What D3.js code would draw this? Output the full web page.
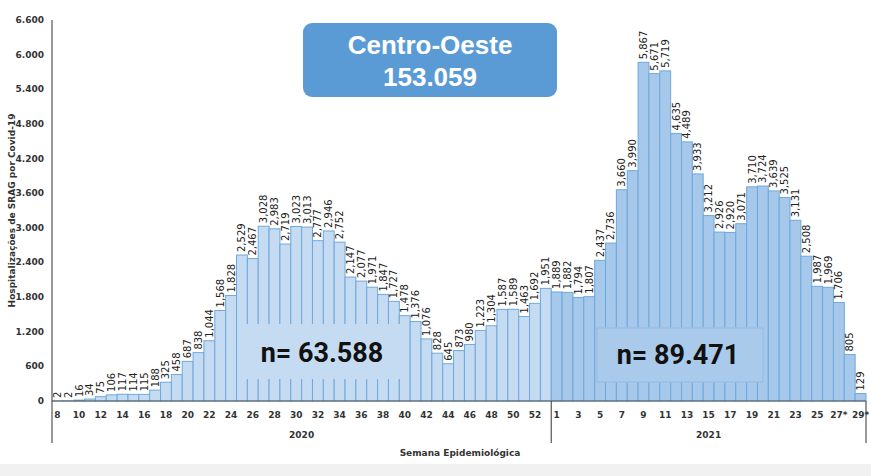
<!DOCTYPE html>
<html lang="pt">
<head>
  <meta charset="UTF-8">
  <title>Centro-Oeste</title>
  <script src="https://cdn.jsdelivr.net/npm/d3@7"></script>
  <style>
    body { margin: 0; background: #fff; }
    svg { display: block; }
    .tick-lbl { font: bold 9px "DejaVu Sans", sans-serif; fill: #333; }
    .bar-lbl { font: 10px "DejaVu Sans", sans-serif; fill: #222; }
    .axis-title { font: bold 9px "DejaVu Sans", sans-serif; fill: #333; }
  </style>
</head>
<body>
<svg width="871" height="476"></svg>
<script>
  // semanas epidemiológicas
  var weeks2020 = d3.range(8, 54);
  var weeks2021 = d3.range(1, 30);

  var values2020 = [2, 2, 16, 34, 75, 106, 117, 114, 115, 188,
    325, 458, 687, 838, 1044, 1568, 1828, 2529, 2467, 3028,
    2983, 2719, 3023, 3013, 2777, 2946, 2752, 2147, 2077, 1971,
    1847, 1727, 1478, 1376, 1076, 828, 645, 873, 980, 1223,
    1304, 1587, 1589, 1463, 1692, 1951];
  var values2021 = [1889, 1882, 1794, 1807, 2437, 2736, 3660, 3990, 5867, 5671,
    5719, 4635, 4489, 3933, 3212, 2926, 2920, 3071, 3710, 3724,
    3639, 3525, 3131, 2508, 1987, 1969, 1706, 805, 129];

  var yTicks = [0, 600, 1200, 1800, 2400, 3000, 3600, 4200, 4800, 5400, 6000, 6600];
  var total = "153.059", total2020 = "63.588", total2021 = "89.471";

  var data = weeks2020.map(function(w, i) { return {year: 2020, week: w, value: values2020[i]}; })
    .concat(weeks2021.map(function(w, i) { return {year: 2021, week: w, value: values2021[i]}; }));
  data.forEach(function(d) { d.key = d.year + "-" + d.week; });

  var svg = d3.select("svg");
  var plotLeft = 52, plotRight = 866, plotTop = 20, base = 401;

  var x = d3.scaleBand().domain(data.map(function(d) { return d.key; })).range([plotLeft, plotRight]).padding(0);
  var y = d3.scaleLinear().domain([0, 6600]).range([base, plotTop]);

  var fmtPt = function(v) { return d3.format(",")(v).replace(/,/g, "."); };

  // faixa cinza de fundo no rodapé
  svg.append("rect").attr("x", 0).attr("y", 464).attr("width", 871).attr("height", 12).attr("fill", "#f1f1f1");

  // barras
  svg.append("g").selectAll("rect")
    .data(data)
    .enter().append("rect")
      .attr("x", function(d) { return x(d.key); })
      .attr("y", function(d) { return y(d.value); })
      .attr("width", x.bandwidth())
      .attr("height", function(d) { return base - y(d.value); })
      .attr("fill", function(d) { return d.year === 2020 ? "#c5dbf2" : "#a6c8ea"; })
      .attr("stroke", "#6fa8dc")
      .attr("stroke-width", 1);

  // rótulos das barras
  svg.append("g").selectAll("text")
    .data(data)
    .enter().append("text")
      .attr("class", "bar-lbl")
      .attr("transform", function(d) {
        return "translate(" + (x(d.key) + x.bandwidth() / 2 + 3.5) + "," + (y(d.value) - 3) + ") rotate(-90)";
      })
      .text(function(d) { return d3.format(",")(d.value); });

  // eixo y
  svg.append("line").attr("x1", plotLeft).attr("x2", plotLeft).attr("y1", plotTop).attr("y2", 443)
    .attr("stroke", "#555").attr("stroke-width", 1.2);
  svg.append("g").selectAll("text")
    .data(yTicks)
    .enter().append("text")
      .attr("class", "tick-lbl")
      .attr("x", 44)
      .attr("y", function(d) { return y(d) + 3; })
      .attr("text-anchor", "end")
      .text(fmtPt);

  svg.append("text")
    .attr("class", "axis-title")
    .attr("transform", "translate(15," + ((plotTop + base) / 2) + ") rotate(-90)")
    .attr("text-anchor", "middle")
    .text("Hospitalizações de SRAG por Covid-19");

  // eixo x
  svg.append("line").attr("x1", plotLeft).attr("x2", plotRight).attr("y1", base).attr("y2", base)
    .attr("stroke", "#555").attr("stroke-width", 1.2);
  var sep = x("2021-1");
  [sep, plotRight].forEach(function(px) {
    svg.append("line").attr("x1", px).attr("x2", px).attr("y1", base).attr("y2", 443)
      .attr("stroke", "#555").attr("stroke-width", 1.2);
  });

  svg.append("g").selectAll("text")
    .data(data.filter(function(d) { return d.year === 2020 ? d.week % 2 === 0 : d.week % 2 === 1; }))
    .enter().append("text")
      .attr("class", "tick-lbl")
      .attr("x", function(d) { return x(d.key) + x.bandwidth() / 2; })
      .attr("y", 418)
      .attr("text-anchor", "middle")
      .text(function(d) { return d.week + (d.year === 2021 && d.week >= 27 ? "*" : ""); });

  svg.append("text").attr("class", "tick-lbl").attr("x", (plotLeft + sep) / 2).attr("y", 438)
    .attr("text-anchor", "middle").text("2020");
  svg.append("text").attr("class", "tick-lbl").attr("x", (sep + plotRight) / 2).attr("y", 438)
    .attr("text-anchor", "middle").text("2021");
  svg.append("text").attr("class", "tick-lbl").attr("x", 460).attr("y", 456)
    .attr("text-anchor", "middle").text("Semana Epidemiológica");

  // caixas n=
  svg.append("rect").attr("x", 238).attr("y", 324).attr("width", 162).attr("height", 55)
    .attr("fill", "#c5dbf2");
  svg.append("text").attr("x", 322).attr("y", 362).attr("text-anchor", "middle")
    .style("font", "bold 27px Roboto, sans-serif").attr("fill", "#111").text("n= " + total2020);

  svg.append("rect").attr("x", 597).attr("y", 328).attr("width", 166).attr("height", 54)
    .attr("fill", "#a9caeb").attr("stroke", "#9cc0e6").attr("stroke-width", 1.5);
  svg.append("text").attr("x", 678).attr("y", 364).attr("text-anchor", "middle")
    .style("font", "bold 27px Roboto, sans-serif").attr("fill", "#111").text("n= " + total2021);

  // título
  svg.append("rect").attr("x", 303).attr("y", 23).attr("width", 254).attr("height", 74)
    .attr("rx", 9).attr("fill", "#5b9bd5");
  svg.append("text").attr("x", 430).attr("y", 54).attr("text-anchor", "middle")
    .style("font", "bold 26px 'Liberation Sans', Arial, sans-serif").attr("fill", "#fff").text("Centro-Oeste");
  svg.append("text").attr("x", 430).attr("y", 86).attr("text-anchor", "middle")
    .style("font", "bold 26px 'Liberation Sans', Arial, sans-serif").attr("fill", "#fff").text(total);
</script>
</body>
</html>
